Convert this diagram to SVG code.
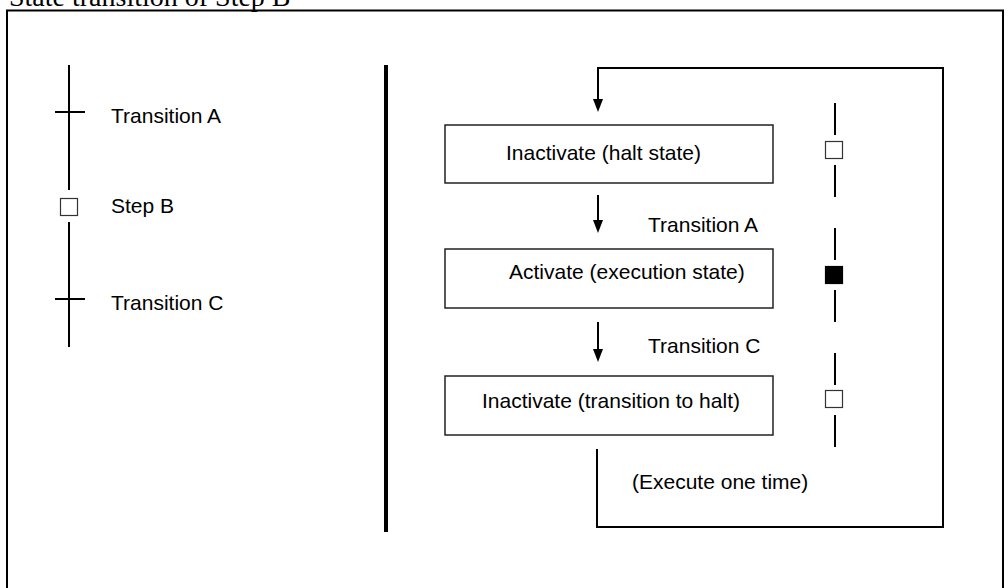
<svg xmlns="http://www.w3.org/2000/svg" width="1008" height="588" viewBox="0 0 1008 588">
  <style>
    .lbl { font-family: "Liberation Sans", Arial, sans-serif; font-size: 21px; fill: #000; }
    .title { font-family: "Liberation Serif", "Times New Roman", serif; font-size: 28px; fill: #000; }
    .line { stroke: #000; stroke-width: 2; fill: none; }
    .box { fill: #fff; stroke: #222; stroke-width: 1.5; }
    .sq { fill: #fff; stroke: #333; stroke-width: 1.2; }
    .sqon { fill: #000; stroke: #000; stroke-width: 1.2; }
    .head { fill: #000; }
  </style>
  <rect width="1008" height="588" fill="#fff"/>

  <text class="title" x="9" y="6">State transition of Step B</text>
  <path class="line" d="M7,600 V10.5 H1003 V600"/>

  <!-- ladder: transitions and step -->
  <g id="ladder">
    <line class="line" x1="69" y1="65" x2="69" y2="190"/>
    <line class="line" x1="55" y1="112" x2="85" y2="112" stroke-width="2.5"/>
    <rect class="sq" x="60.5" y="198.5" width="17" height="17"/>
    <line class="line" x1="69" y1="222" x2="69" y2="347"/>
    <line class="line" x1="55" y1="299" x2="85" y2="299" stroke-width="2.5"/>
  </g>
  <g id="ladder-labels">
    <text class="lbl" x="111" y="123">Transition A</text>
    <text class="lbl" x="111" y="213">Step B</text>
    <text class="lbl" x="111" y="310">Transition C</text>
  </g>

  <line x1="386" y1="65" x2="386" y2="532" stroke="#000" stroke-width="4"/>

  <!-- state boxes -->
  <g id="state-halt">
    <rect class="box" x="445" y="125" width="328" height="58"/>
    <text class="lbl" x="506" y="160">Inactivate (halt state)</text>
  </g>
  <g id="state-exec">
    <rect class="box" x="445" y="249" width="328" height="59"/>
    <text class="lbl" x="509" y="279">Activate (execution state)</text>
  </g>
  <g id="state-to-halt">
    <rect class="box" x="445" y="376" width="328" height="59"/>
    <text class="lbl" x="482" y="408">Inactivate (transition to halt)</text>
  </g>

  <!-- connectors -->
  <g id="connectors">
    <path class="line" d="M597,449 V527 H943 V68 H598 V100"/>
    <path class="head" d="M593,99 L603,99 L598,112 Z"/>
    <line class="line" x1="598" y1="195" x2="598" y2="221"/>
    <path class="head" d="M593,220 L603,220 L598,233 Z"/>
    <line class="line" x1="598" y1="322" x2="598" y2="350"/>
    <path class="head" d="M593,349 L603,349 L598,362 Z"/>
  </g>
  <g id="connector-labels">
    <text class="lbl" x="648" y="232">Transition A</text>
    <text class="lbl" x="648" y="353">Transition C</text>
    <text class="lbl" x="632" y="489">(Execute one time)</text>
  </g>

  <!-- step status indicators -->
  <g id="status-1">
    <line class="line" x1="835" y1="103" x2="835" y2="135"/>
    <rect class="sq" x="825.5" y="141.5" width="17" height="17"/>
    <line class="line" x1="835" y1="165" x2="835" y2="197"/>
  </g>
  <g id="status-2">
    <line class="line" x1="835" y1="228" x2="835" y2="260"/>
    <rect class="sqon" x="825.5" y="266.5" width="17" height="17"/>
    <line class="line" x1="835" y1="290" x2="835" y2="322"/>
  </g>
  <g id="status-3">
    <line class="line" x1="835" y1="353" x2="835" y2="385"/>
    <rect class="sq" x="825.5" y="390.5" width="17" height="17"/>
    <line class="line" x1="835" y1="415" x2="835" y2="447"/>
  </g>
</svg>
